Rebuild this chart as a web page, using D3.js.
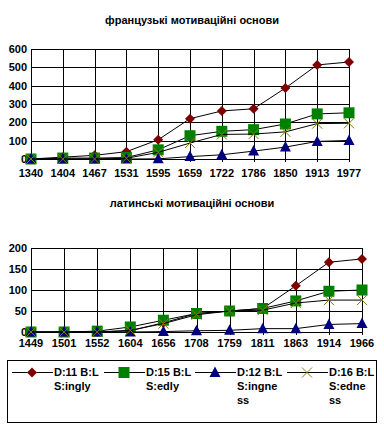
<!DOCTYPE html>
<html lang="uk">
<head>
<meta charset="utf-8">
<title>мотиваційні основи</title>
<script src="https://cdn.jsdelivr.net/npm/d3@7"></script>
<style>
  body { margin: 0; background: #fff; }
  svg text { font-family: "Liberation Sans", Arial, sans-serif; font-weight: bold; font-size: 11px; fill: #000; }
</style>
</head>
<body>
<script>
// data
var frYears = ["1340", "1404", "1467", "1531", "1595", "1659", "1722", "1786", "1850", "1913", "1977"];
var frIngly = [0, 10, 20, 40, 105, 220, 262, 274, 387, 513, 529];
var frEdly = [0, 5, 5, 8, 50, 127, 151, 160, 191, 246, 252];
var frIngness = [0, 0, 0, 0, 1, 13, 23, 43, 65, 96, 101];
var frEdness = [0, 0, 0, 4, 36, 87, 134, 136, 148, 193, 195];
var frTicks = [0, 100, 200, 300, 400, 500, 600];

var laYears = ["1449", "1501", "1552", "1604", "1656", "1708", "1759", "1811", "1863", "1914", "1966"];
var laIngly = [0, 0, 0, 3, 22, 44, 50, 56, 110, 166, 174];
var laEdly = [0, 0, 2, 12, 28, 44, 50, 56, 74, 97, 100];
var laIngness = [0, 0, 0, 0, 1, 3, 4, 8, 8, 18, 20];
var laEdness = [0, 0, 0, 4, 20, 41, 50, 52, 69, 76, 76];
var laTicks = [0, 50, 100, 150, 200];

var seriesNames = [["D:11 B:L", "S:ingly"], ["D:15 B:L", "S:edly"], ["D:12 B:L", "S:ingne", "ss"], ["D:16 B:L", "S:edne", "ss"]];
var colors = ["#800000", "#008000", "#000080", "#808000"];
var shapes = ["diamond", "square", "triangle", "cross"];

var W = 384, H = 429;
var svg = d3.select("body").append("svg").attr("width", W).attr("height", H);

function marker(g, shape, color, x, y) {
  if (shape == "diamond") {
    g.append("path").attr("d", "M" + x + "," + (y - 5) + "L" + (x + 5) + "," + y + "L" + x + "," + (y + 5) + "L" + (x - 5) + "," + y + "Z").attr("fill", color);
  } else if (shape == "square") {
    g.append("rect").attr("x", x - 5.5).attr("y", y - 5.5).attr("width", 11).attr("height", 11).attr("fill", color);
  } else if (shape == "triangle") {
    g.append("path").attr("d", "M" + x + "," + (y - 6) + "L" + (x + 5.5) + "," + (y + 4.5) + "L" + (x - 5.5) + "," + (y + 4.5) + "Z").attr("fill", color);
  } else {
    g.append("path").attr("d", "M" + (x - 5) + "," + (y - 5) + "L" + (x + 5) + "," + (y + 5) + "M" + (x + 5) + "," + (y - 5) + "L" + (x - 5) + "," + (y + 5)).attr("stroke", color).attr("stroke-width", 1).attr("fill", "none");
  }
}

function drawChart(title, titleY, years, data, ticks, left, right, top, bottom, labelY) {
  var x = d3.scalePoint().domain(years).range([left, right]);
  var y = d3.scaleLinear().domain([0, d3.max(ticks)]).range([bottom, top]);
  var g = svg.append("g");

  g.append("text").attr("x", 192).attr("y", titleY).attr("text-anchor", "middle").text(title);

  // grid
  g.selectAll(".hg").data(ticks).enter().append("line")
    .attr("x1", left).attr("x2", right)
    .attr("y1", function(d) { return Math.round(y(d)) + 0.5; })
    .attr("y2", function(d) { return Math.round(y(d)) + 0.5; })
    .attr("stroke", "#000");
  g.selectAll(".vg").data(years).enter().append("line")
    .attr("x1", function(d) { return Math.round(x(d)) + 0.5; })
    .attr("x2", function(d) { return Math.round(x(d)) + 0.5; })
    .attr("y1", top).attr("y2", bottom + 3)
    .attr("stroke", "#000");

  // axis labels
  g.selectAll(".yl").data(ticks).enter().append("text")
    .attr("x", left - 4).attr("y", function(d) { return y(d) + 4; })
    .attr("text-anchor", "end").text(function(d) { return d; });
  g.selectAll(".xl").data(years).enter().append("text")
    .attr("x", function(d) { return x(d); }).attr("y", labelY)
    .attr("text-anchor", "middle").text(function(d) { return d; });

  var line = d3.line().x(function(d, i) { return x(years[i]); }).y(function(d) { return y(d); });
  data.forEach(function(s, k) {
    g.append("path").attr("d", line(s)).attr("fill", "none").attr("stroke", "#000").attr("stroke-width", 1);
    s.forEach(function(v, i) { marker(g, shapes[k], colors[k], x(years[i]), y(v)); });
  });
}

drawChart("французькі мотиваційні основи", 24, frYears, [frIngly, frEdly, frIngness, frEdness], frTicks, 31, 349, 49, 159, 177);
drawChart("латинські мотиваційні  основи", 207, laYears, [laIngly, laEdly, laIngness, laEdness], laTicks, 31, 362, 248, 332, 347);

// legend
var lg = svg.append("g");
lg.append("rect").attr("x", 7.5).attr("y", 360.5).attr("width", 369).attr("height", 62).attr("fill", "none").attr("stroke", "#000");
var legX = [12, 104, 195, 287];
seriesNames.forEach(function(names, k) {
  var x0 = legX[k];
  lg.append("line").attr("x1", x0).attr("x2", x0 + 41).attr("y1", 372.5).attr("y2", 372.5).attr("stroke", "#000");
  marker(lg, shapes[k], colors[k], x0 + 20, 372.5);
  names.forEach(function(t, j) {
    lg.append("text").attr("x", x0 + 42).attr("y", 376 + j * 14).text(t);
  });
});
</script>
</body>
</html>
